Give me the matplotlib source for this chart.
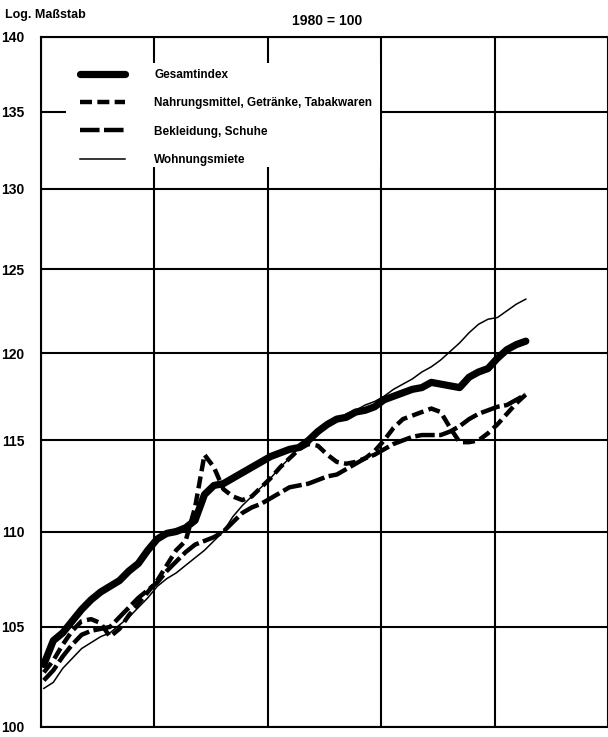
import matplotlib
matplotlib.use("Agg")
from matplotlib import pyplot as plt
from matplotlib import font_manager
from matplotlib.patches import Rectangle
import numpy as np

# monthly index values, 1980 = 100 (Jan 1981 .. Apr 1985)
gesamt = [103.1, 104.3, 104.7, 105.3, 105.9, 106.4, 106.8, 107.1, 107.4, 107.9,
          108.3, 109.0, 109.6, 109.9, 110.0, 110.2, 110.6, 112.0, 112.5, 112.6,
          112.9, 113.2, 113.5, 113.8, 114.1, 114.3, 114.5, 114.6, 115.0, 115.5,
          115.9, 116.2, 116.3, 116.6, 116.7, 116.9, 117.3, 117.5, 117.7, 117.9,
          118.0, 118.3, 118.2, 118.1, 118.0, 118.6, 118.9, 119.1, 119.7, 120.2,
          120.5, 120.7]
nahrung = [102.7, 103.3, 104.1, 104.8, 105.3, 105.4, 105.2, 104.5, 104.9, 105.6,
           106.2, 106.8, 107.4, 108.2, 109.0, 109.5, 111.3, 114.2, 113.5, 112.3,
           111.9, 111.7, 111.9, 112.4, 112.9, 113.5, 114.0, 114.5, 114.8, 114.7,
           114.2, 113.8, 113.7, 113.8, 114.0, 114.4, 115.0, 115.7, 116.2, 116.4,
           116.6, 116.8, 116.6, 115.7, 114.9, 114.9, 115.0, 115.4, 115.9, 116.5,
           117.1, 117.6]
bekleidung = [102.3, 102.8, 103.5, 104.1, 104.6, 104.8, 104.9, 105.0, 105.5, 106.0,
              106.5, 106.9, 107.3, 107.9, 108.4, 108.9, 109.3, 109.5, 109.7, 110.0,
              110.5, 111.0, 111.3, 111.5, 111.8, 112.1, 112.4, 112.5, 112.6, 112.8,
              113.0, 113.1, 113.4, 113.7, 114.0, 114.2, 114.5, 114.8, 115.0, 115.2,
              115.3, 115.3, 115.3, 115.5, 115.8, 116.2, 116.5, 116.7, 116.9, 117.0,
              117.3, 117.6]
miete = [101.9, 102.2, 102.9, 103.4, 103.9, 104.2, 104.5, 104.7, 105.1, 105.5,
         106.0, 106.5, 107.1, 107.5, 107.8, 108.2, 108.6, 109.0, 109.5, 110.0,
         110.8, 111.4, 111.9, 112.4, 112.9, 113.5, 114.0, 114.6, 115.0, 115.4,
         115.8, 116.1, 116.5, 116.7, 117.0, 117.2, 117.5, 117.9, 118.2, 118.5,
         118.9, 119.2, 119.6, 120.1, 120.6, 121.2, 121.7, 122.0, 122.1, 122.5,
         122.9, 123.2]
labels = ['Gesamtindex', 'Nahrungsmittel, Getränke, Tabakwaren',
          'Bekleidung, Schuhe', 'Wohnungsmiete']
yticks = [100, 105, 110, 115, 120, 125, 130, 135, 140]

months = np.arange(len(gesamt))
x = (months + 0.3) / 12.0

# narrow face if there is one, else Arial-like metrics
installed = {f.name for f in font_manager.fontManager.ttflist}
narrow = 'Liberation Sans Narrow' in installed
face = 'Liberation Sans Narrow' if narrow else 'Liberation Sans'
font = [face, 'DejaVu Sans']
plt.rcParams['font.family'] = font
fs = 11 if narrow else 10
fs_leg = 10.5 if narrow else 8.5

W, H = 608, 737
fig = plt.figure(figsize=(W / 100, H / 100), dpi=100)
ax = fig.add_axes([41 / W, 1 - 727 / H, 1 - 41 / W, (727 - 37) / H])

ax.set_yscale('log')
ax.set_ylim(100, 140)
ax.set_xlim(0, (W - 41) / 114)
ax.set_yticks(yticks)
ax.set_yticklabels([str(t) for t in yticks], fontsize=fs, fontweight='bold')
ax.yaxis.set_minor_locator(matplotlib.ticker.NullLocator())
ax.set_xticks([0, 1, 2, 3, 4, 5])
ax.set_xticklabels([])
ax.tick_params(length=0, pad=12)
ax.grid(True, color='black', lw=1.5)
ax.set_axisbelow(True)
ax.spines['right'].set_visible(False)
for s in ['left', 'top', 'bottom']:
    ax.spines[s].set_linewidth(1.5)

# white area behind the key
ax.add_patch(Rectangle((66 / W, 1 - 167 / H), (380 - 66) / W, (167 - 63) / H,
                       transform=fig.transFigure, facecolor='white',
                       edgecolor='none', zorder=1))

ax.plot(x, gesamt, color='black', lw=5.2, solid_capstyle='round', zorder=4,
        label=labels[0])
ax.plot(x, nahrung, color='black', lw=3.2, ls=(0, (2.7, 1.2)), zorder=3,
        label=labels[1])
ax.plot(x, bekleidung, color='black', lw=3.2, ls=(0, (4.4, 1.0)), zorder=3,
        label=labels[2])
ax.plot(x, miete, color='black', lw=1.1, zorder=3, label=labels[3])

leg = ax.legend(loc='upper left', bbox_to_anchor=(80 / W, 1 - 69 / H),
                bbox_transform=fig.transFigure, frameon=False,
                borderpad=0, borderaxespad=0, handlelength=3.8,
                handletextpad=2.5, labelspacing=1.38,
                prop=dict(family=font, size=fs_leg, weight='bold'))
leg.set_zorder(6)

fig.text(5 / W, 1 - 15 / H, 'Log. Maßstab', fontsize=fs - 1, fontweight='bold',
         ha='left', va='center')
fig.text(327 / W, 1 - 21 / H, '1980 = 100', fontsize=fs, fontweight='bold',
         ha='center', va='center')

fig.savefig('out.png', dpi=100)
